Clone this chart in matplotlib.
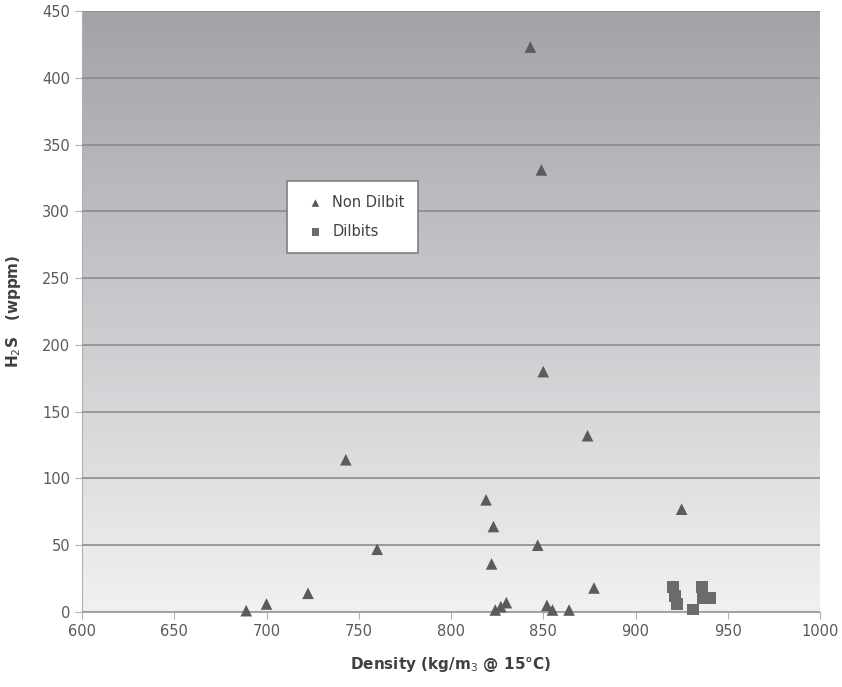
import matplotlib.pyplot as plt
import matplotlib.colors as mcolors
import numpy as np

# Non Dilbit crudes: density (kg/m3 @ 15C) vs H2S (wppm)
non_dilbit_density = [689, 700, 722.5, 743, 760, 819, 823, 822, 824, 827, 830,
                      843, 849, 850, 847, 852, 855, 864, 874, 877.5, 925]
non_dilbit_h2s = [1, 6, 14, 114, 47, 84, 64, 36, 1.5, 4, 7,
                  423, 331, 180, 50, 5, 1.5, 1.5, 132, 18, 77]

# Dilbits
dilbit_density = [920.3, 921.4, 922.5, 931, 936, 936.5, 940.4]
dilbit_h2s = [18.5, 12, 6, 2, 18.5, 10.5, 10.5]

fig = plt.figure(figsize=(8.42, 6.87), dpi=100)
ax = fig.add_axes([82 / 842, 1 - 612 / 687, 738 / 842, 601 / 687])

# gradient plot area (dark at top, light at bottom)
cmap = mcolors.LinearSegmentedColormap.from_list('bg', ['#f1f1f3', '#a2a3a7'])
grad = np.linspace(0, 1, 256).reshape(-1, 1)
ax.imshow(grad, extent=[600, 1000, 0, 450], origin='lower', aspect='auto',
          cmap=cmap, zorder=0)

ax.set_xlim(600, 1000)
ax.set_ylim(0, 450)
ax.set_xticks(np.arange(600, 1001, 50))
ax.set_yticks(np.arange(0, 451, 50))
ax.yaxis.grid(True, color='#8c8c90', linewidth=1.2, zorder=1)
ax.set_axisbelow(False)

ax.scatter(non_dilbit_density, non_dilbit_h2s, marker='^', s=70,
           color='#5b5b5e', edgecolors='none', zorder=3, label='Non Dilbit',
           clip_on=False)
ax.scatter(dilbit_density, dilbit_h2s, marker='s', s=70,
           color='#6b6b6e', edgecolors='none', zorder=3, label='Dilbits',
           clip_on=False)

for s in ['top', 'right']:
    ax.spines[s].set_visible(False)
ax.spines['left'].set_color('#b0b0b0')
ax.spines['bottom'].set_color('#a8a8a8')
ax.tick_params(axis='both', colors='#b0b0b0', labelcolor='#5a5a5a',
               labelsize=10.5, length=5, direction='out')

ax.set_xlabel('Density (kg/m$_3$ @ 15°C)', fontsize=11, fontweight='bold',
              color='#404040', labelpad=12)
ax.set_ylabel('H$_2$S   (wppm)', fontsize=11, fontweight='bold',
              color='#404040', labelpad=14)

leg = ax.legend(loc='upper left', bbox_to_anchor=(205 / 738, 1 - 170 / 601),
                borderaxespad=0, frameon=True, fancybox=False, fontsize=10.5,
                handletextpad=0.15, markerscale=0.65, borderpad=0.95,
                labelspacing=0.95, handlelength=2.0, framealpha=1)
leg.get_frame().set_facecolor('white')
leg.get_frame().set_edgecolor('#808080')
leg.get_frame().set_linewidth(1.2)
for t in leg.get_texts():
    t.set_color('#404040')

fig.savefig('out.png', dpi=100)
